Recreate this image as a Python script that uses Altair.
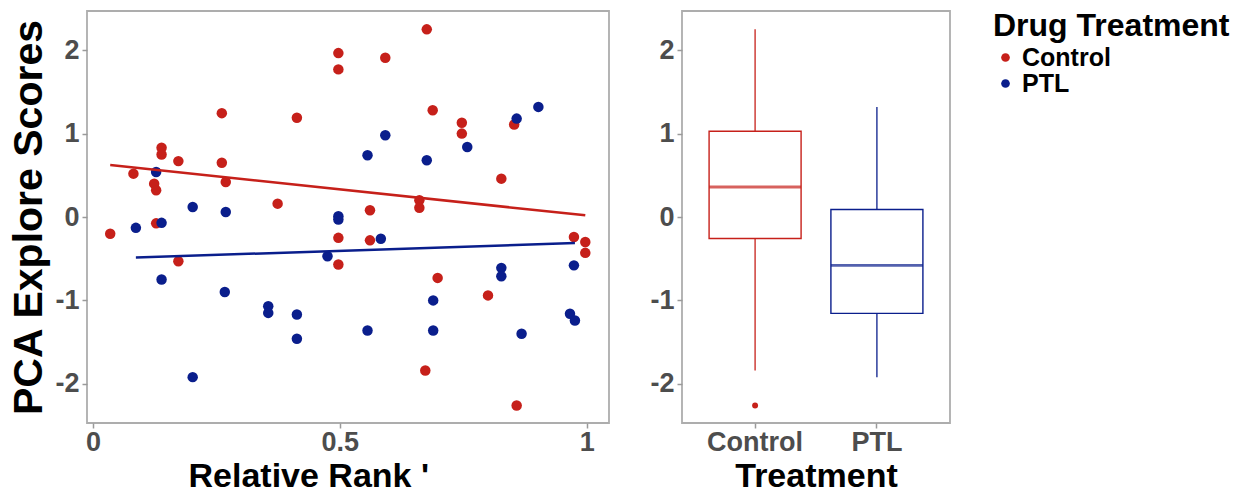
import altair as alt
import pandas as pd

# ---- data ----
ctrl_rank = [0.497, 0.497, 0.261, 0.413, 0.139, 0.139, 0.173, 0.261, 0.082, 0.124,
             0.128, 0.269, 0.374, 0.128, 0.035, 0.173, 0.497, 0.497,
             0.676, 0.592, 0.688, 0.747, 0.747, 0.853, 0.827, 0.661, 0.661, 0.561,
             0.561, 0.974, 0.997, 0.997, 0.698, 0.800, 0.673, 0.858]
ctrl_score = [1.965, 1.77, 1.245, 1.19, 0.83, 0.75, 0.67, 0.65, 0.52, 0.40,
              0.32, 0.42, 0.16, -0.076, -0.20, -0.53, -0.25, -0.57,
              2.25, 1.91, 1.28, 1.13, 1.00, 1.11, 0.46, 0.20, 0.11, 0.08,
              -0.28, -0.24, -0.30, -0.43, -0.73, -0.94, -1.84, -2.26]
ptl_rank = [0.128, 0.202, 0.269, 0.087, 0.139, 0.497, 0.497, 0.475, 0.139, 0.267,
            0.355, 0.355, 0.413, 0.413, 0.202,
            0.902, 0.858, 0.592, 0.758, 0.556, 0.676, 0.583, 0.827, 0.827, 0.974,
            0.689, 0.556, 0.689, 0.868, 0.966, 0.976]
ptl_score = [0.54, 0.12, 0.06, -0.13, -0.07, 0.01, -0.03, -0.47, -0.75, -0.90,
             -1.07, -1.15, -1.17, -1.46, -1.92,
             1.32, 1.18, 0.98, 0.84, 0.74, 0.68, -0.26, -0.61, -0.71, -0.58,
             -1.00, -1.36, -1.36, -1.40, -1.16, -1.24]

groups = ["Control", "PTL"]
colors = ["#C6201A", "#0A1E8C"]

df = pd.DataFrame({
    "rank": ctrl_rank + ptl_rank,
    "score": ctrl_score + ptl_score,
    "treatment": ["Control"] * len(ctrl_rank) + ["PTL"] * len(ptl_rank),
})

FONT = "Liberation Sans"
ydom = [-2.47, 2.47]
yticks = [-2, -1, 0, 1, 2]
minus_fix = "replace(datum.label, '\u2212', '-')"

color_scale = alt.Scale(domain=groups, range=colors)
y_scale = alt.Scale(domain=ydom, nice=False, zero=False)

y_left = alt.Y("score:Q", scale=y_scale,
               axis=alt.Axis(values=yticks, format="~g", labelExpr=minus_fix,
                             title="PCA Explore Scores", titleFontSize=41,
                             titlePadding=4))
x_left = alt.X("rank:Q", scale=alt.Scale(domain=[-0.012, 1.045], nice=False, zero=False),
               axis=alt.Axis(values=[0, 0.5, 1], format="~g", title="Relative Rank '",
                             titleFontSize=34, titleAlign="left", titleX=101,
                             labelPadding=1, titlePadding=4))

base = alt.Chart(df)

points = base.mark_circle(size=110, opacity=1).encode(
    x=x_left,
    y=y_left,
    color=alt.Color("treatment:N", scale=color_scale,
                    legend=alt.Legend(title="Drug Treatment")),
)

lines = base.transform_regression(
    "rank", "score", groupby=["treatment"]
).mark_line(strokeWidth=2.5).encode(
    x=x_left,
    y=y_left,
    stroke=alt.Stroke("treatment:N", scale=color_scale, legend=None),
)

scatter = alt.layer(points, lines).properties(width=522, height=412)

# ---- box plot panel ----
xb = alt.X("treatment:N",
           scale=alt.Scale(domain=groups, paddingInner=0, paddingOuter=0.1),
           axis=alt.Axis(labelAngle=0, title="Treatment", titleFontSize=34,
                         labelPadding=1, titlePadding=4))
yb_axis = alt.Axis(values=yticks, format="~g", labelExpr=minus_fix, title=None)

fenced = base.transform_joinaggregate(
    q1="q1(score)", q3="q3(score)", groupby=["treatment"]
).transform_calculate(
    lo="datum.q1 - 1.5 * (datum.q3 - datum.q1)",
    hi="datum.q3 + 1.5 * (datum.q3 - datum.q1)",
)

whisk = fenced.transform_filter(
    "datum.score >= datum.lo && datum.score <= datum.hi"
).transform_aggregate(
    wmin="min(score)", wmax="max(score)", groupby=["treatment"]
).mark_rule(strokeWidth=1.3).encode(
    x=xb,
    y=alt.Y("wmin:Q", scale=y_scale, axis=yb_axis),
    y2="wmax:Q",
    stroke=alt.Stroke("treatment:N", scale=color_scale, legend=None),
)

stats = base.transform_aggregate(
    q1="q1(score)", q3="q3(score)", med="median(score)", groupby=["treatment"]
)

box = stats.mark_bar(size=92, fill="white", strokeWidth=1.4).encode(
    x=xb,
    y=alt.Y("q1:Q", scale=y_scale, axis=yb_axis),
    y2="q3:Q",
    stroke=alt.Stroke("treatment:N", scale=color_scale, legend=None),
)

median = stats.mark_tick(size=92, thickness=2.8, filled=True, orient="horizontal").encode(
    x=xb,
    y=alt.Y("med:Q", scale=y_scale, axis=yb_axis),
    fill=alt.Fill("treatment:N", scale=color_scale, legend=None),
)

outliers = fenced.transform_filter(
    "datum.score < datum.lo || datum.score > datum.hi"
).mark_circle(size=35, opacity=1).encode(
    x=xb,
    y=alt.Y("score:Q", scale=y_scale, axis=yb_axis),
    fill=alt.Fill("treatment:N", scale=color_scale, legend=None),
)

boxpanel = alt.layer(whisk, box, median, outliers).properties(width=268, height=412)

chart = alt.hconcat(scatter, boxpanel, spacing=39).properties(
    padding={"left": 8, "top": 10, "right": 5, "bottom": 0}
).configure_view(
    stroke="#ADADAD", strokeWidth=1.8
).configure_axis(
    grid=False, domain=False,
    tickColor="#9A9A9A", tickWidth=1.5, tickSize=5,
    labelFont=FONT, labelFontWeight="bold", labelFontSize=27, labelColor="#4D4D4D",
    labelPadding=3,
    titleFont=FONT, titleFontWeight="bold", titleColor="black",
).configure_legend(
    orient="right", offset=42,
    titleFont=FONT, titleFontWeight="bold", titleFontSize=32, titleColor="black",
    titlePadding=2, titleLimit=400, labelLimit=300,
    labelFont=FONT, labelFontWeight="bold", labelFontSize=25, labelColor="black",
    symbolType="circle", symbolSize=75, symbolStrokeWidth=0, rowPadding=-5,
)

chart.save("out.html", embed_options={"renderer": "svg", "actions": False})
